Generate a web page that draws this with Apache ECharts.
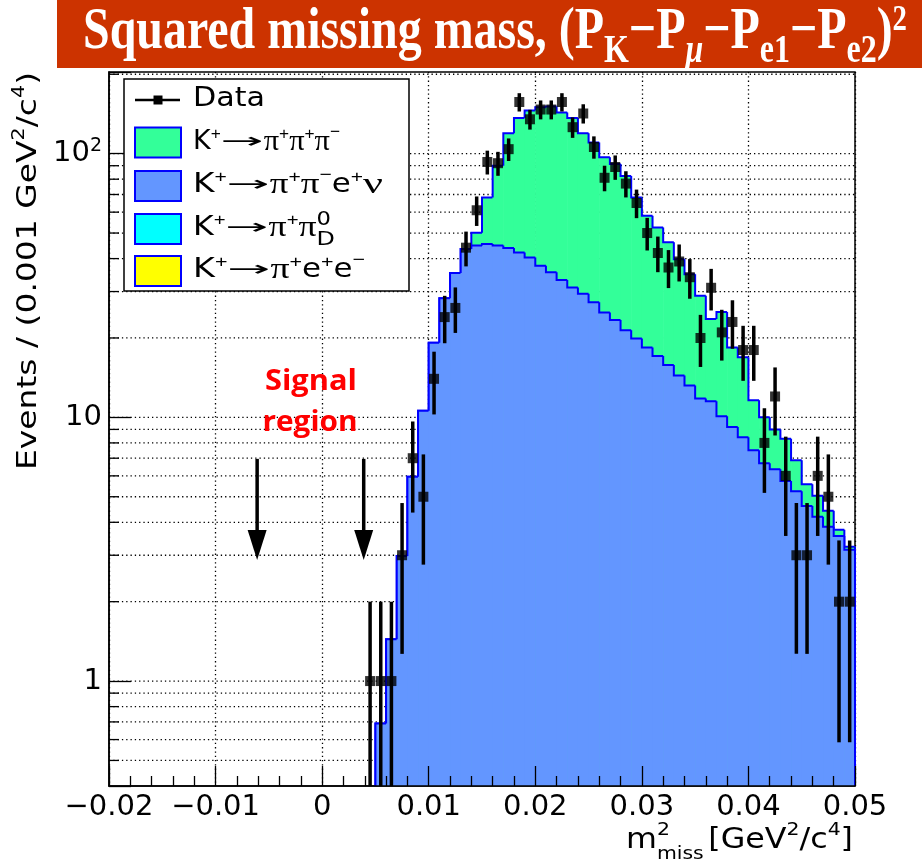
<!DOCTYPE html>
<html>
<head>
<meta charset="utf-8">
<script src="https://cdn.jsdelivr.net/npm/echarts@6.0.0/dist/echarts.min.js"></script>
<style>
html,body{margin:0;padding:0;background:#fff;}
#c{width:922px;height:859px;}
</style>
</head>
<body>
<div id="c"></div>
<script>
// ---------------- data ----------------
const xTickValues = [-0.02, -0.01, 0, 0.01, 0.02, 0.03, 0.04, 0.05];
const yTickValues = [1, 10, 100];
const yMinorValues = [0.5,0.6,0.7,0.8,0.9,2,3,4,5,6,7,8,9,20,30,40,50,60,70,80,90,200];
const binWidth = 0.001;
const mcBinLow = [0.005,0.006,0.007,0.008,0.009,0.010,0.011,0.012,0.013,0.014,0.015,0.016,0.017,0.018,0.019,
  0.020,0.021,0.022,0.023,0.024,0.025,0.026,0.027,0.028,0.029,0.030,0.031,0.032,0.033,0.034,
  0.035,0.036,0.037,0.038,0.039,0.040,0.041,0.042,0.043,0.044,0.045,0.046,0.047,0.048,0.049];
// K+ -> pi+ pi- e+ nu (bottom of stack)
const kPiPiENu = [0.69,1.44,2.98,5.95,10.6,19.2,28.3,35.3,43.5,44.8,45.4,44.8,43.9,42.2,40.4,
  37.6,35.5,33.2,31.1,29.4,27.3,25.0,23.4,21.4,19.9,18.4,17.1,15.8,14.4,13.2,
  11.8,11.5,10.1,9.2,8.4,7.5,6.7,6.36,5.74,5.24,4.61,4.2,3.85,3.55,3.15];
// K+ -> pi+ pi+ pi- (stacked on top)
const k3Pi = [0,0,0,0,0,0,0,0,0,5.3,22.8,45.1,75.7,94.3,105.2,
  112.5,115.5,110.1,105.4,90.2,82.9,71.9,68.0,60.9,48.3,39.8,35.4,30.3,25.4,21.7,
  17.1,12.1,15.0,9.2,8.5,4.1,3.3,2.64,2.56,1.64,0.97,0.84,0.57,0.2,0.08];
// K+ -> pi+ pi0_D and K+ -> pi+ e+ e- : negligible (below visible range)
const kPiPi0D = [];
const kPiEE = [];
// data
const dataX = [0.0045,0.0055,0.0065,0.0075,0.0085,0.0095,0.0105,0.0115,0.0125,0.0135,0.0145,0.0155,0.0165,0.0175,0.0185,
  0.0195,0.0205,0.0215,0.0225,0.0235,0.0245,0.0255,0.0265,0.0275,0.0285,0.0295,0.0305,0.0315,0.0325,0.0335,
  0.0345,0.0355,0.0365,0.0375,0.0385,0.0395,0.0405,0.0415,0.0425,0.0435,0.0445,0.0455,0.0465,0.0475,0.0485,0.0495];
const dataN = [1,1,1,3,7,5,14,24,26,44,61,93,92,104,157,
  135,147,147,157,126,142,106,81,89,77,65,50,42,37,39,
  34,20,31,21,23,18,18,8,12,6,3,3,6,5,2,2];
// signal region arrows
const arrowX = [-0.0061, 0.0039];
const arrowTop = 6.96;
const arrowTip = 2.88;

// ---------------- helpers ----------------
const XMIN = -0.02, XMAX = 0.05, YMIN = 0.4, YMAX = 204;
const SANS = '"DejaVu Sans", sans-serif';
const LSANS = '"Liberation Sans", Arial, sans-serif';
const SERIF = '"Liberation Serif", "Times New Roman", serif';
const mctx = document.createElement('canvas').getContext('2d');
function fstr(o){ return (o.style||'normal')+' '+(o.weight||'normal')+' '+o.size+'px '+o.fam; }
function measure(t,o){ mctx.font = fstr(o); return mctx.measureText(t).width; }
function midOff(o){
  if (o.fam.indexOf('Open Sans')>=0) return 0.388;
  if (o.fam.indexOf('DejaVu')>=0) return 0.38;
  if (o.fam.indexOf('Serif')>=0) return 0.338;
  return 0.347;
}
function txtEl(x, base, t, o, sx){
  return {type:'text', x:x, y: base - midOff(o)*o.size, scaleX: sx||1, silent:true, z:100,
    style:{text:t, font:fstr(o), fill:o.fill||'#000', align:'left', verticalAlign:'middle',
      textAlign:'left', textVerticalAlign:'middle'}};
}
// tokens with "w" keep a fixed pixel width; the rest are scaled to reach targetW
function layout(tokens, def, targetW){
  const info = tokens.map(tk=>{
    const parts = (tk.stack || [tk]).map(p=>{
      const o = Object.assign({}, def, p);
      return {p:p, o:o, nat:measure(p.t, o)};
    });
    const fixed = parts.some(q=>q.p.w);
    const adv = Math.max.apply(null, parts.map(q=>q.p.w || q.nat));
    return {tk:tk, parts:parts, fixed:fixed, adv:adv, gap:tk.gap||0};
  });
  let sumFixed = 0, sumNat = 0;
  info.forEach(I=>{ if (I.fixed) sumFixed += I.adv; else sumNat += I.adv; sumNat += I.gap; });
  const s = targetW ? (targetW - sumFixed) / sumNat : 1;
  let x = 0; const els = [];
  info.forEach(I=>{
    I.parts.forEach(q=>{
      const sx = q.p.w ? q.p.w / q.nat : s;
      els.push(txtEl(x, q.p.dy||0, q.p.t, q.o, sx));
    });
    x += (I.fixed ? I.adv : I.adv*s) + I.gap*s;
  });
  return {els:els, width:x};
}
function runGroup(x0, base, tokens, def, align, targetW, rot){
  const L = layout(tokens, def, targetW);
  let off = 0;
  if (align==='right') off = -L.width;
  else if (align==='center') off = -L.width/2;
  if (rot){
    return {type:'group', x:x0, y:base, rotation:rot, z:100,
      children:[{type:'group', x:off, y:0, z:100, children:L.els}]};
  }
  return {type:'group', x:x0+off, y:base, z:100, children:L.els};
}

// ---------------- series builders ----------------
function histItems(vals){
  const items = [];
  for (let i=0;i<mcBinLow.length;i++){
    const prev = i===0 ? YMIN : vals[i-1];
    items.push([mcBinLow[i], mcBinLow[i]+binWidth, vals[i], prev, i===mcBinLow.length-1 ? 1 : 0]);
  }
  return items;
}
function histRender(fill, stroke){
  return function(params, api){
    const x0 = api.value(0), x1 = api.value(1);
    const v = Math.max(api.value(2), YMIN), pv = Math.max(api.value(3), YMIN), last = api.value(4);
    const lo = api.coord([x0, YMIN]);
    const p0 = api.coord([x0, v]);
    const p1 = api.coord([x1, v]);
    const pp = api.coord([x0, pv]);
    const ch = [
      {type:'rect', shape:{x:p0[0], y:p0[1], width:p1[0]-p0[0]+0.6, height:lo[1]-p0[1]}, style:{fill:fill}},
      {type:'polyline', shape:{points:[pp,p0,p1]}, style:{stroke:stroke, lineWidth:2, fill:null}}
    ];
    if (last) ch.push({type:'line', shape:{x1:p1[0], y1:p1[1], x2:p1[0], y2:lo[1]}, style:{stroke:stroke, lineWidth:2}});
    return {type:'group', children:ch};
  };
}
const totalVals = kPiPiENu.map((v,i)=>v + k3Pi[i]);

const chart = echarts.init(document.getElementById('c'), null, {renderer:'canvas'});

function fmtX(v){
  if (Math.abs(v) < 1e-9) return '0';
  return (v<0 ? '\u2212' : '') + Math.abs(v).toFixed(2);
}
function fmtY(v){
  const l = Math.log10(v), r = Math.round(l);
  if (Math.abs(l-r) > 1e-6 || yTickValues.indexOf(Math.pow(10,r)) < 0) return '';
  if (r===0) return '1';
  if (r===1) return '10';
  return '{a|10}{b|' + r + '}';
}

// ---------------- graphics (title, legend, annotations) ----------------
const G = [];
// title banner
G.push({type:'rect', shape:{x:57, y:0, width:865, height:68}, style:{fill:'#CC3300'}, z:90, silent:true});
const tDef = {size:60, fam:SERIF, weight:'bold', fill:'#fff'};
G.push(runGroup(83, 53, [
  {t:'Squared missing mass, (P'},
  {t:'K', size:40, dy:12},
  {t:'\u2212P'},
  {t:'\u03BC', size:40, style:'italic', dy:12},
  {t:'\u2212P'},
  {t:'e1', size:40, dy:12},
  {t:'\u2212P'},
  {t:'e2', size:40, dy:12},
  {t:')'},
  {t:'2', size:36, dy:-20}
], tDef, 'left', 824));

// legend
G.push({type:'rect', shape:{x:124, y:79, width:285, height:212}, style:{fill:'#fff', stroke:'#000', lineWidth:1.5}, z:99, silent:true});
G.push({type:'line', shape:{x1:135, y1:100, x2:180, y2:100}, style:{stroke:'#000', lineWidth:2.5}, z:100, silent:true});
G.push({type:'rect', shape:{x:153.5, y:95.5, width:9, height:9}, style:{fill:'#000'}, z:100, silent:true});
const boxColors = ['#33FF99', '#6396FF', '#00FFFF', '#FFFF00'];
const boxY = [127.5, 171, 214, 256];
boxColors.forEach((c,i)=>{
  G.push({type:'rect', shape:{x:135, y:boxY[i], width:46, height:30}, style:{fill:c, stroke:'#0000FF', lineWidth:2}, z:100, silent:true});
});
const lDef = {size:26.5, fam:SANS, fill:'#000'};
const PI = {t:'\u03C0', fam:SERIF, size:30};
const SUP = (t)=>({t:t, fam:LSANS, size:17, dy: t==='\u2212' ? -14 : -12});
const ARROW = {t:'\u2192', fam:SANS, size:21, w:43, dy:-2};
const EL = {t:'e', w:19};
const NU = {t:'\u03BD', fam:SERIF, size:30, w:20};
G.push(runGroup(193, 109, [{t:'Data'}], lDef, 'left', 72));
G.push(runGroup(193, 152.5, [{t:'K'}, SUP('+'), ARROW, PI, SUP('+'), PI, SUP('+'), PI, SUP('\u2212')], lDef, 'left', 147));
G.push(runGroup(193, 195.5, [{t:'K'}, SUP('+'), ARROW, PI, SUP('+'), PI, SUP('\u2212'), EL, SUP('+'), NU], lDef, 'left', 190));
G.push(runGroup(193, 238.5, [{t:'K'}, SUP('+'), ARROW, PI, SUP('+'), PI, {stack:[{t:'0', size:19, dy:-11.5}, {t:'D', size:20, dy:8.5}]}], lDef, 'left', 142));
G.push(runGroup(193, 280.5, [{t:'K'}, SUP('+'), ARROW, PI, SUP('+'), EL, SUP('+'), EL, SUP('\u2212')], lDef, 'left', 172));

// signal region text
const sDef = {size:28, fam:'"Open Sans", sans-serif', weight:'bold', fill:'#FF0000'};
G.push(runGroup(311, 393, [{t:'Signal'}], sDef, 'center', 92));
G.push(runGroup(310, 434, [{t:'region'}], sDef, 'center', 95));

// axis titles
const aDef = {size:28, fam:SANS, fill:'#000'};
G.push(runGroup(853, 851, [
  {t:'m'},
  {stack:[{t:'2', size:18, dy:-14}, {t:'miss', size:18, dy:10}], gap:4},
  {t:'[GeV'}, {t:'2', size:18, dy:-14}, {t:'/c'}, {t:'4', size:18, dy:-14}, {t:']'}
], aDef, 'right', 227));
G.push(runGroup(39.5, 72, [
  {t:'Events / (0.001 GeV'}, {t:'2', size:17, dy:-13}, {t:'/c'}, {t:'4', size:17, dy:-13}, {t:')'}
], {size:27, fam:SANS, fill:'#000'}, 'right', 398, Math.PI/2));

// ---------------- option ----------------
const axisLineStyle = {color:'#000', width:1.5};
const option = {
  animation:false,
  backgroundColor:'#ffffff',
  grid:{left:109, right:67, top:72, bottom:73, show:true, borderColor:'#000', borderWidth:1.5,
    backgroundColor:'rgba(0,0,0,0)', containLabel:false, outerBoundsMode:'none'},
  xAxis:[{
    type:'value', min:XMIN, max:XMAX, interval:0.01, z:10, position:'bottom',
    axisLine:{show:true, onZero:false, lineStyle:axisLineStyle},
    axisTick:{show:true, inside:true, length:20, lineStyle:{color:'#000', width:1.3}},
    minorTick:{show:true, splitNumber:5, length:10, lineStyle:{color:'#000', width:1.3}},
    axisLabel:{show:true, margin:7, fontSize:29, fontFamily:SANS, color:'#000', formatter:fmtX},
    splitLine:{show:false}, minorSplitLine:{show:false}
  },{
    type:'value', min:XMIN, max:XMAX, interval:0.01, z:0, position:'top',
    axisLine:{show:false}, axisTick:{show:false}, axisLabel:{show:false}, minorTick:{show:false},
    splitLine:{show:true, lineStyle:{color:'#000', width:1.3, type:[1.3,3]}}
  }],
  yAxis:[{
    type:'log', logBase:10, min:YMIN, max:YMAX, z:10,
    axisLine:{show:true, onZero:false, lineStyle:axisLineStyle},
    axisTick:{show:true, inside:true, length:22, lineStyle:{color:'#000', width:1.3}},
    minorTick:{show:false},
    axisLabel:{show:true, margin:7, fontSize:29, fontFamily:SANS, color:'#000', formatter:fmtY,
      rich:{a:{fontSize:29, fontFamily:SANS, color:'#000', lineHeight:34, verticalAlign:'middle'},
            b:{fontSize:19, fontFamily:SANS, color:'#000', lineHeight:20, verticalAlign:'top'}}},
    splitLine:{show:false}
  }],
  series:[
    { // horizontal dotted grid (major + minor)
      type:'custom', name:'ygrid', z:1, silent:true,
      data: yTickValues.concat(yMinorValues).map(v=>[XMIN, v]),
      renderItem:function(params, api){
        const a = api.coord([XMIN, api.value(1)]), b = api.coord([XMAX, api.value(1)]);
        return {type:'line', shape:{x1:a[0], y1:a[1], x2:b[0], y2:b[1]},
          style:{stroke:'#000', lineWidth:1.3, lineDash:[1.3,3]}};
      }
    },
    {
      type:'custom', name:'K\u207A\u2192\u03C0\u207A\u03C0\u207A\u03C0\u207B', z:2, silent:true,
      data: histItems(totalVals), renderItem: histRender('#33FF99', '#0000FF')
    },
    {
      type:'custom', name:'K\u207A\u2192\u03C0\u207A\u03C0\u207Be\u207A\u03BD', z:2, silent:true,
      data: histItems(kPiPiENu), renderItem: histRender('#6396FF', '#0000FF')
    },
    {
      type:'custom', name:'Data errors', z:3, silent:true,
      data: dataX.map((x,i)=>[x, dataN[i]]),
      renderItem:function(params, api){
        const x = api.value(0), n = api.value(1), e = Math.sqrt(n);
        const a = api.coord([x, Math.max(n-e, YMIN)]), b = api.coord([x, Math.min(n+e, YMAX)]);
        return {type:'line', shape:{x1:a[0], y1:a[1], x2:b[0], y2:b[1]}, style:{stroke:'#000', lineWidth:3.5}};
      }
    },
    {
      type:'scatter', name:'Data', z:4, silent:true, symbol:'rect', symbolSize:10,
      itemStyle:{color:'#000'},
      data: dataX.map((x,i)=>[x, dataN[i]])
    },
    {
      type:'custom', name:'Signal region', z:5, silent:true,
      data: arrowX.map(x=>[x, arrowTop, arrowTip]),
      renderItem:function(params, api){
        const x = api.value(0);
        const pt = api.coord([x, api.value(1)]), pp = api.coord([x, api.value(2)]);
        const hh = 30, hw = 9.5;
        return {type:'group', children:[
          {type:'line', shape:{x1:pt[0], y1:pt[1], x2:pp[0], y2:pp[1]-hh+2}, style:{stroke:'#000', lineWidth:3.5}},
          {type:'polygon', shape:{points:[[pp[0]-hw, pp[1]-hh],[pp[0]+hw, pp[1]-hh],[pp[0], pp[1]]]}, style:{fill:'#000'}}
        ]};
      }
    },
    { // y minor ticks
      type:'custom', name:'yminor', z:11, silent:true,
      data: yMinorValues.map(v=>[XMIN, v]),
      renderItem:function(params, api){
        const a = api.coord([XMIN, api.value(1)]);
        return {type:'line', shape:{x1:a[0], y1:a[1], x2:a[0]+10, y2:a[1]}, style:{stroke:'#000', lineWidth:1.3}};
      }
    }
  ],
  graphic:{elements:G}
};
chart.setOption(option);
</script>
</body>
</html>
